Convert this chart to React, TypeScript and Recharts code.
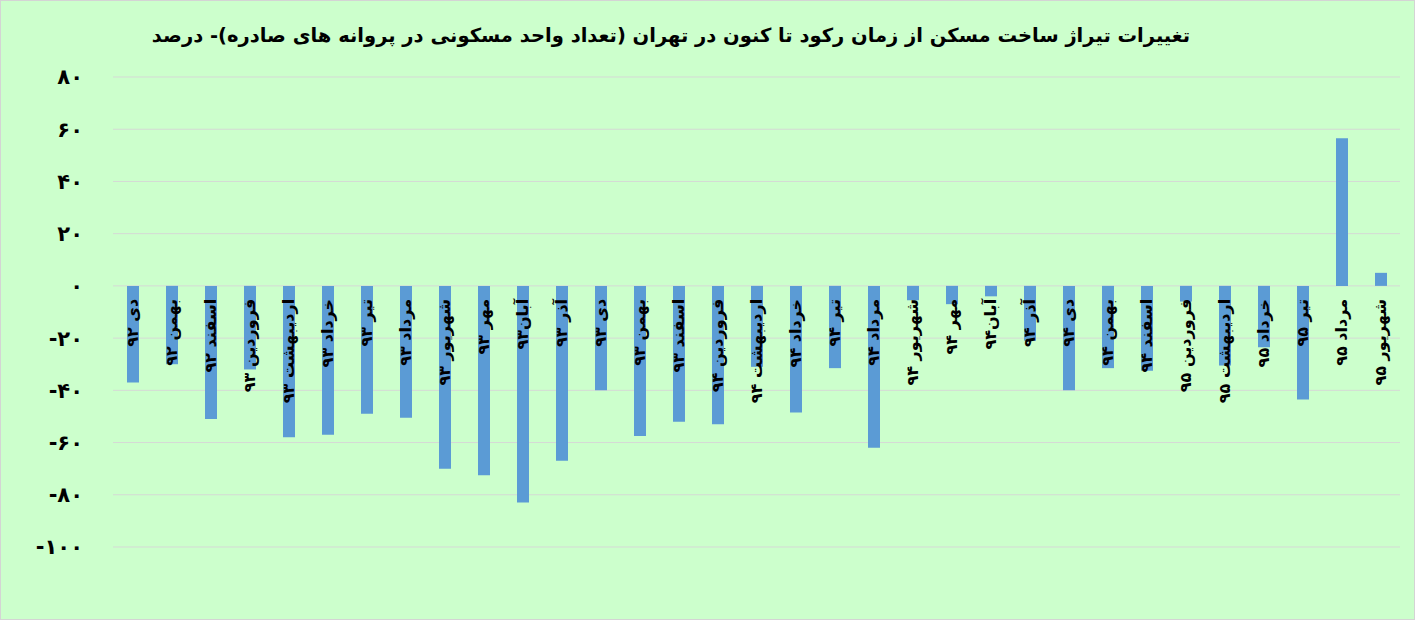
import { Bar, BarChart, CartesianGrid, LabelList, XAxis, YAxis } from 'recharts';

const months = [
  'دی ۹۲', 'بهمن ۹۲', 'اسفند ۹۲',
  'فروردین ۹۳', 'اردیبهشت ۹۳', 'خرداد ۹۳', 'تیر ۹۳', 'مرداد ۹۳', 'شهریور ۹۳',
  'مهر ۹۳', 'آبان۹۳', 'آذر ۹۳', 'دی ۹۳', 'بهمن ۹۳', 'اسفند ۹۳',
  'فروردین ۹۴', 'اردیبهشت ۹۴', 'خرداد ۹۴', 'تیر ۹۴', 'مرداد ۹۴', 'شهریور ۹۴',
  'مهر ۹۴', 'آبان۹۴', 'آذر ۹۴', 'دی ۹۴', 'بهمن ۹۴', 'اسفند ۹۴',
  'فروردین ۹۵', 'اردیبهشت ۹۵', 'خرداد ۹۵', 'تیر ۹۵', 'مرداد ۹۵', 'شهریور ۹۵',
];

const changes = [
  -37, -30, -51,
  -32, -58, -57, -49, -50.5, -70,
  -72.5, -83, -67, -40, -57.5, -52,
  -53, -31, -48.5, -31.5, -62, -5.5,
  -7, -4, -21, -40, -31.5, -32.5,
  -6, -30.5, -23.5, -43.5, 56.5, 5,
];

const yTicks = [80, 60, 40, 20, 0, -20, -40, -60, -80, -100];

const title =
  'تغییرات تیراژ ساخت مسکن از زمان رکود تا کنون در تهران (تعداد واحد مسکونی در پروانه های صادره)- درصد';

const data = months.map((month, i) => ({ month, change: changes[i] }));

const FONT = '"DejaVu Sans", sans-serif';

const faDigits = (n: number) => {
  const s = String(Math.abs(n)).replace(/\d/g, (d) => '۰۱۲۳۴۵۶۷۸۹'[Number(d)]);
  return n < 0 ? '-' + s : s;
};

// month names hang just under the zero line, rotated like Excel's -90°
function MonthLabel(props: any) {
  const vb = props.viewBox ?? props;
  const { x, y, width, height } = vb;
  const value = data[props.index]?.change ?? 0;
  const zero = value < 0 ? Math.min(y, y + height) : Math.max(y, y + height);
  const cx = x + width / 2;
  const ty = zero + 13;
  return (
    <text
      x={cx}
      y={ty}
      transform={`rotate(-90, ${cx}, ${ty})`}
      textAnchor="end"
      dominantBaseline="central"
      fontFamily={FONT}
      fontSize={16}
      fontWeight="bold"
      fill="#000"
    >
      {data[props.index]?.month}
    </text>
  );
}

export default function App() {
  return (
    <div
      style={{
        position: 'absolute',
        left: 0,
        top: 0,
        width: 1413,
        height: 618,
        background: '#CCFFCC',
        border: '1px solid #d4d4d4',
      }}
    >
      <svg width={1413} height={60} style={{ position: 'absolute', left: 0, top: 0 }}>
        <text
          x={670}
          y={41}
          textAnchor="middle"
          fontFamily={FONT}
          fontSize={19.5}
          fontWeight="bold"
          fill="#000"
        >
          {title}
        </text>
      </svg>
      <BarChart
        width={1413}
        height={618}
        data={data}
        margin={{ top: 76, right: 14, bottom: 72, left: 0 }}
        barSize={12}
      >
        <CartesianGrid vertical={false} stroke="#d5d9d5" />
        <XAxis dataKey="month" hide />
        <YAxis
          width={112}
          domain={[-100, 80]}
          ticks={yTicks}
          interval={0}
          axisLine={false}
          tickLine={false}
          tickSize={0}
          tickMargin={30}
          tickFormatter={faDigits}
          tick={{ fontFamily: FONT, fontSize: 21, fontWeight: 'bold', fill: '#000' }}
        />
        <Bar dataKey="change" fill="#5B9BD5" isAnimationActive={false}>
          <LabelList dataKey="month" content={<MonthLabel />} />
        </Bar>
      </BarChart>
    </div>
  );
}
